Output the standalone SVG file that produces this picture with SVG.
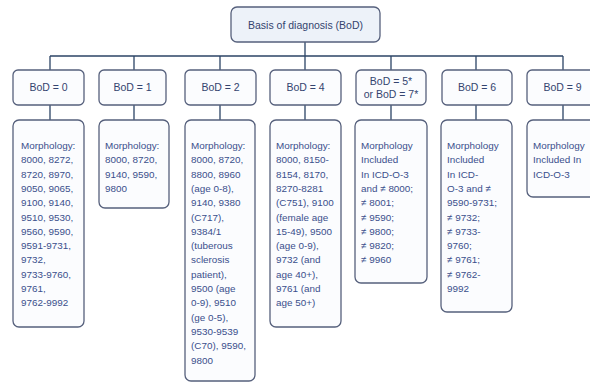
<svg xmlns="http://www.w3.org/2000/svg" width="590" height="383" viewBox="0 0 590 383">
<defs>
<style>
.box{fill:#fbfcfe;stroke:#56607c;stroke-width:1.3}
.title{fill:#edf2f9;stroke:#56607c;stroke-width:1.3}
.lbl{font-family:"Liberation Sans",Arial,sans-serif;font-size:10.5px;fill:#34446f;text-anchor:middle}
.body{font-family:"Liberation Sans",Arial,sans-serif;font-size:9.9px;fill:#3a4f8c}
.conn{stroke:#2c4466;stroke-width:1.3;fill:none}
</style>
</defs>
<rect width="590" height="383" fill="#ffffff"/>
<g id="connectors">
<path class="conn" d="M305 42V56M50 56H563M50 56V70M134 56V70M220 56V70M305 56V70M391 56V70M476 56V70M563 56V70"/>
<path class="conn" d="M50 105V120M134 105V120M220 105V120M305 105V120M391 105V120M476 105V120M563 105V120"/>
</g>
<g id="root">
<rect class="title" x="231" y="7" width="149" height="35" rx="6"/>
<text class="lbl" x="305.5" y="28.5">Basis of diagnosis (BoD)</text>
</g>
<g id="bod0">
<rect class="box" x="13" y="70" width="71" height="35" rx="5"/>
<text class="lbl" x="48.5" y="91">BoD = 0</text>
</g>
<g id="bod1">
<rect class="box" x="99" y="70" width="67" height="35" rx="5"/>
<text class="lbl" x="132.5" y="91">BoD = 1</text>
</g>
<g id="bod2">
<rect class="box" x="185" y="70" width="71" height="35" rx="5"/>
<text class="lbl" x="220.5" y="91">BoD = 2</text>
</g>
<g id="bod4">
<rect class="box" x="270" y="70" width="71" height="35" rx="5"/>
<text class="lbl" x="305.5" y="91">BoD = 4</text>
</g>
<g id="bod57">
<rect class="box" x="356" y="70" width="70" height="35" rx="5"/>
<text class="lbl" x="391" y="84.5">BoD = 5*</text>
<text class="lbl" x="391" y="97.5">or BoD = 7*</text>
</g>
<g id="bod6">
<rect class="box" x="442" y="70" width="70" height="35" rx="5"/>
<text class="lbl" x="477" y="91">BoD = 6</text>
</g>
<g id="bod9">
<rect class="box" x="527" y="70" width="71" height="35" rx="5"/>
<text class="lbl" x="562.5" y="91">BoD = 9</text>
</g>
<g id="morph0">
<rect class="box" x="13" y="120" width="71" height="207" rx="6"/>
<text class="body" x="21" y="149"><tspan x="21">Morphology:</tspan><tspan x="21" dy="14.3">8000, 8272,</tspan><tspan x="21" dy="14.3">8720, 8970,</tspan><tspan x="21" dy="14.3">9050, 9065,</tspan><tspan x="21" dy="14.3">9100, 9140,</tspan><tspan x="21" dy="14.3">9510, 9530,</tspan><tspan x="21" dy="14.3">9560, 9590,</tspan><tspan x="21" dy="14.3">9591-9731,</tspan><tspan x="21" dy="14.3">9732,</tspan><tspan x="21" dy="14.3">9733-9760,</tspan><tspan x="21" dy="14.3">9761,</tspan><tspan x="21" dy="14.3">9762-9992</tspan></text>
</g>
<g id="morph1">
<rect class="box" x="99" y="120" width="70" height="88" rx="6"/>
<text class="body" x="105" y="149"><tspan x="105">Morphology:</tspan><tspan x="105" dy="14.3">8000, 8720,</tspan><tspan x="105" dy="14.3">9140, 9590,</tspan><tspan x="105" dy="14.3">9800</tspan></text>
</g>
<g id="morph2">
<rect class="box" x="185" y="120" width="70" height="261" rx="6"/>
<text class="body" x="191" y="149"><tspan x="191">Morphology:</tspan><tspan x="191" dy="14.3">8000, 8720,</tspan><tspan x="191" dy="14.3">8800, 8960</tspan><tspan x="191" dy="14.3">(age 0-8),</tspan><tspan x="191" dy="14.3">9140, 9380</tspan><tspan x="191" dy="14.3">(C717),</tspan><tspan x="191" dy="14.3">9384/1</tspan><tspan x="191" dy="14.3">(tuberous</tspan><tspan x="191" dy="14.3">sclerosis</tspan><tspan x="191" dy="14.3">patient),</tspan><tspan x="191" dy="14.3">9500 (age</tspan><tspan x="191" dy="14.3">0-9), 9510</tspan><tspan x="191" dy="14.3">(ge 0-5),</tspan><tspan x="191" dy="14.3">9530-9539</tspan><tspan x="191" dy="14.3">(C70), 9590,</tspan><tspan x="191" dy="14.3">9800</tspan></text>
</g>
<g id="morph4">
<rect class="box" x="270" y="120" width="71" height="207" rx="6"/>
<text class="body" x="276" y="149"><tspan x="276">Morphology:</tspan><tspan x="276" dy="14.3">8000, 8150-</tspan><tspan x="276" dy="14.3">8154, 8170,</tspan><tspan x="276" dy="14.3">8270-8281</tspan><tspan x="276" dy="14.3">(C751), 9100</tspan><tspan x="276" dy="14.3">(female age</tspan><tspan x="276" dy="14.3">15-49), 9500</tspan><tspan x="276" dy="14.3">(age 0-9),</tspan><tspan x="276" dy="14.3">9732 (and</tspan><tspan x="276" dy="14.3">age 40+),</tspan><tspan x="276" dy="14.3">9761 (and</tspan><tspan x="276" dy="14.3">age 50+)</tspan></text>
</g>
<g id="morph57">
<rect class="box" x="355" y="120" width="72" height="163" rx="6"/>
<text class="body" x="361" y="149"><tspan x="361">Morphology</tspan><tspan x="361" dy="14.3">Included</tspan><tspan x="361" dy="14.3">In ICD-O-3</tspan><tspan x="361" dy="14.3">and ≠ 8000;</tspan><tspan x="361" dy="14.3">≠ 8001;</tspan><tspan x="361" dy="14.3">≠ 9590;</tspan><tspan x="361" dy="14.3">≠ 9800;</tspan><tspan x="361" dy="14.3">≠ 9820;</tspan><tspan x="361" dy="14.3">≠ 9960</tspan></text>
</g>
<g id="morph6">
<rect class="box" x="441" y="120" width="71" height="192" rx="6"/>
<text class="body" x="447" y="149"><tspan x="447">Morphology</tspan><tspan x="447" dy="14.3">Included</tspan><tspan x="447" dy="14.3">In ICD-</tspan><tspan x="447" dy="14.3">O-3 and ≠</tspan><tspan x="447" dy="14.3">9590-9731;</tspan><tspan x="447" dy="14.3">≠ 9732;</tspan><tspan x="447" dy="14.3">≠ 9733-</tspan><tspan x="447" dy="14.3">9760;</tspan><tspan x="447" dy="14.3">≠ 9761;</tspan><tspan x="447" dy="14.3">≠ 9762-</tspan><tspan x="447" dy="14.3">9992</tspan></text>
</g>
<g id="morph9">
<rect class="box" x="527" y="120" width="72" height="77" rx="6"/>
<text class="body" x="533" y="149"><tspan x="533">Morphology</tspan><tspan x="533" dy="14.3">Included In</tspan><tspan x="533" dy="14.3">ICD-O-3</tspan></text>
</g>
</svg>
